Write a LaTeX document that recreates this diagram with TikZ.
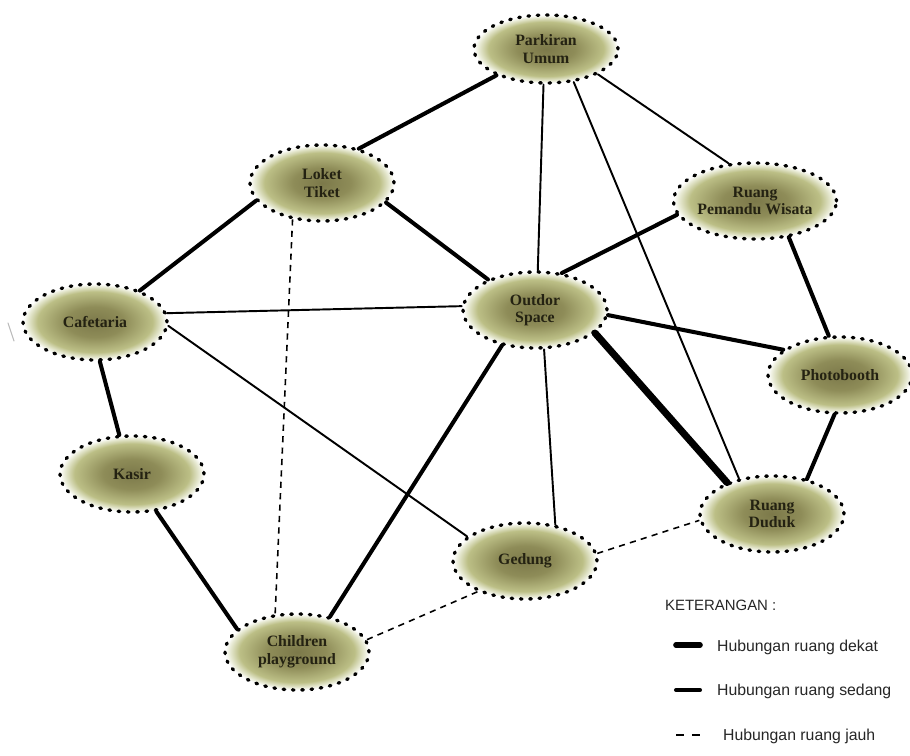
\documentclass[tikz,border=0pt]{standalone}
\usepackage{fontspec}
\setmainfont{Liberation Serif}
\newfontfamily\legendfont{Liberation Sans}
\usetikzlibrary{shapes.geometric}
\definecolor{roomcore}{RGB}{124,121,74}
\definecolor{roommid}{RGB}{142,140,88}
\definecolor{roomrim}{RGB}{188,191,134}
\definecolor{roomedge}{RGB}{234,236,216}
\definecolor{roomtext}{RGB}{36,34,18}
\pgfdeclareradialshading{roomshade}{\pgfpoint{0bp}{0bp}}{color(0bp)=(roomcore); color(10bp)=(roommid); color(20bp)=(roomrim); color(23.5bp)=(roomedge); color(25bp)=(white); color(50bp)=(white)}

\begin{document}
\begin{tikzpicture}[x=0.02cm,y=-0.02cm,line cap=round,line join=round,
  every node/.style={inner sep=1pt},
  room/.style={ellipse,minimum width=2.88cm,minimum height=1.52cm,inner sep=0pt,
    shade,shading=roomshade,draw=black,line width=1.9pt,dash pattern=on 0.9pt off 4.4pt,
    align=center,text=roomtext,font=\fontsize{9}{10}\selectfont\bfseries},
  tipis/.style={line width=1.1pt},
  sedang/.style={line width=2.3pt},
  dekat/.style={line width=4pt},
  jauh/.style={line width=0.9pt,dash pattern=on 3.5pt off 3pt,line cap=butt},
  legend/.style={anchor=west,text=black!85,font=\legendfont\fontsize{9}{11}\selectfont}]
  \useasboundingbox (0,0) rectangle (910,756);
  \draw[gray!55,line width=0.6pt] (8,323) -- (14,341);
  \node[room,minimum height=1.36cm] (park) at (546,49) {Parkiran\\Umum};
  \foreach \n/\x/\y/\t in {loket/322/183/{Loket\\Tiket}, pem/755/201/{Ruang\\Pemandu Wisata},
      caf/95/322/{Cafetaria}, out/535/310/{Outdor\\Space}, photo/840/375/{Photobooth},
      kasir/132/474/{Kasir}, dudut/772/514/{Ruang\\Duduk}, gedung/525/561/{Gedung},
      child/297/652/{Children\\playground}} {
    \node[room] (\n) at (\x,\y) {\t};
  }
  \foreach \a/\b in {park.266/out.86, park.310/dudut.133, park.334/pem.125,
      caf.7/out.177, caf.357/gedung.157, out.283/gedung.50} {
    \draw[tipis] (\a) -- (\b);
  }
  \foreach \a/\b in {park.208/loket.43, loket.343/out.147, loket.195/caf.35,
      pem.190/out.54, pem.313/photo.106, caf.277/kasir.108, out.356/photo.156,
      out.227/child.47, photo.262/dudut.45, kasir.303/child.159} {
    \draw[sedang] (\a) -- (\b);
  }
  \draw[dekat] (out.339) -- (dudut.145);
  \foreach \a/\b in {loket.231/child.120, child.10/gedung.213, gedung.6/dudut.185} {
    \draw[jauh] (\a) -- (\b);
  }
  \node[anchor=west,text=black!85,font=\legendfont\fontsize{8.5}{10}\selectfont] (ket) at (663,605) {KETERANGAN :};
  \coordinate (d1) at (676,645);
  \coordinate (d2) at (700,645);
  \coordinate (s1) at (676,690);
  \coordinate (s2) at (700,690);
  \coordinate (j1) at (676,735);
  \coordinate (j2) at (700,735);
  \draw[dekat,line width=3.2pt] (d1) -- (d2);
  \draw[sedang] (s1) -- (s2);
  \draw[jauh,line width=1.3pt,dash pattern=on 4.5pt off 4.5pt] (j1) -- (j2);
  \node[legend] (ldekat) at (715,647) {Hubungan ruang dekat};
  \node[legend] (lsedang) at (715,691) {Hubungan ruang sedang};
  \node[legend] (ljauh) at (721,736) {Hubungan ruang jauh};
\end{tikzpicture}
\end{document}
